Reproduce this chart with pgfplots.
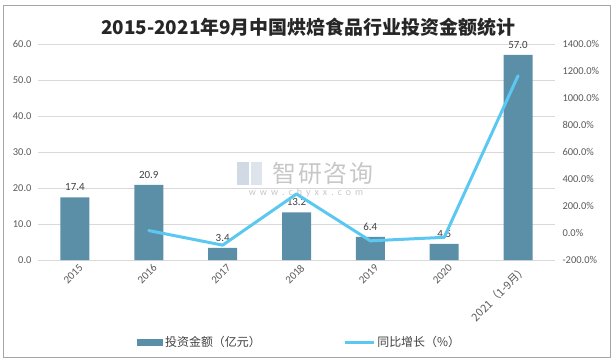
\documentclass[border=0pt]{standalone}
\usepackage{fontspec}
\setmainfont{Carlito}
\newfontfamily\cjk{Noto Sans CJK SC}
\usepackage{pgfplots}
\pgfplotsset{compat=1.18}
\definecolor{barc}{HTML}{5B8FA8}
\definecolor{linec}{HTML}{5BC8F2}
\definecolor{tickc}{HTML}{595959}
\definecolor{labc}{HTML}{404040}
\definecolor{gridc}{HTML}{D9D9D9}
\definecolor{wmc}{HTML}{B4B4B4}
\definecolor{wmicon}{HTML}{C5CFDD}
\pgfkeys{/pgf/number format/.cd, assume math mode=true, 1000 sep={}}
\begin{document}
\begin{tikzpicture}[x=1bp,y=1bp]
\path[use as bounding box] (0,0) rectangle (614,362);
\draw[gray!70, line width=1bp] (3.5,4.5) rectangle (610,356);
\node[font=\cjk\bfseries\fontsize{19}{22}\selectfont, text=black!85] at (308,335) {2015-2021年9月中国烘焙食品行业投资金额统计};
\begin{axis}[
  at={(38bp,102bp)}, anchor=south west, scale only axis,
  width=517bp, height=216bp,
  /pgf/number format/assume math mode=true,
  /pgf/number format/1000 sep={},
  xmin=-0.5, xmax=6.5, ymin=0, ymax=60,
  ytick={0,10,...,60},
  xtick={0,...,6},
  xticklabels={2015,2016,2017,2018,2019,2020,{\cjk 2021（1-9月）}},
  axis line style={draw=none},
  major tick length=0pt,
  ymajorgrids, grid style={gridc, line width=0.9bp},
  x tick label style={rotate=45, anchor=north east, font=\fontsize{11}{12}\selectfont, text=tickc, inner sep=1bp, xshift=1bp, yshift=-4bp},
  y tick label style={font=\fontsize{10.5}{12}\selectfont, text=tickc, xshift=-3bp},
  yticklabel={\pgfmathprintnumber[fixed,fixed zerofill,precision=1,assume math mode=true]{\tick}},
  ybar, bar width=29bp,
  nodes near coords,
  every node near coord/.append style={font=\fontsize{11}{12}\selectfont, text=labc, yshift=3bp},
  nodes near coords={\pgfmathprintnumber[fixed,fixed zerofill,precision=1,assume math mode=true]{\pgfplotspointmeta}},
  legend columns=2,
  legend style={at={(0.506,-0.382)}, anchor=center, draw=none, fill=none,
    font=\cjk\fontsize{12}{14}\selectfont, text=labc,
    /tikz/every even column/.append style={column sep=80bp}},
]
\addplot[fill=barc, draw=none,
  legend image code/.code={\fill[barc] (0bp,-3.5bp) rectangle (26bp,3.5bp);}]
  coordinates {(0,17.4) (1,20.9) (2,3.4) (3,13.2) (4,6.4) (5,4.5) (6,57.0)};
\addlegendentry{投资金额（亿元）}
\addlegendimage{legend image code/.code={\draw[linec, line width=3.5bp] (0bp,0bp) -- (29bp,0bp);}}
\addlegendentry{同比增长（\%）}
\end{axis}
\begin{axis}[
  at={(38bp,102bp)}, anchor=south west, scale only axis,
  width=517bp, height=216bp,
  /pgf/number format/assume math mode=true,
  /pgf/number format/1000 sep={},
  xmin=-0.5, xmax=6.5, ymin=-200, ymax=1400,
  ytick={-200,0,...,1400},
  axis y line*=right, hide x axis,
  axis line style={draw=none},
  major tick length=0pt,
  y tick label style={font=\fontsize{10.5}{12}\selectfont, text=tickc, xshift=4bp},
  yticklabel={\pgfmathprintnumber[fixed,fixed zerofill,precision=1,assume math mode=true,1000 sep={}]{\tick}\%},
]
\addplot[linec, line width=3bp, line join=round, line cap=round]
  coordinates {(1,18) (2,-90) (3,289) (4,-58) (5,-32) (6,1165)};
\end{axis}
% watermark
\fill[wmicon, opacity=0.8] (237,177) rectangle (249,200);
\fill[wmicon!70, opacity=0.8] (251,177) rectangle (262,200);
\node[text=wmc, font=\cjk\fontsize{24}{24}\selectfont, opacity=0.75] at (323,189) {智\hspace{2bp}研\hspace{2bp}咨\hspace{2bp}询};
\node[text=wmc, font=\fontsize{10}{10}\selectfont, opacity=0.75] at (306,169) {w\hspace{4bp}w\hspace{4bp}w\hspace{4bp}.\hspace{4bp}c\hspace{4bp}h\hspace{4bp}y\hspace{4bp}x\hspace{4bp}x\hspace{4bp}.\hspace{4bp}c\hspace{4bp}o\hspace{4bp}m};
\end{tikzpicture}
\end{document}
